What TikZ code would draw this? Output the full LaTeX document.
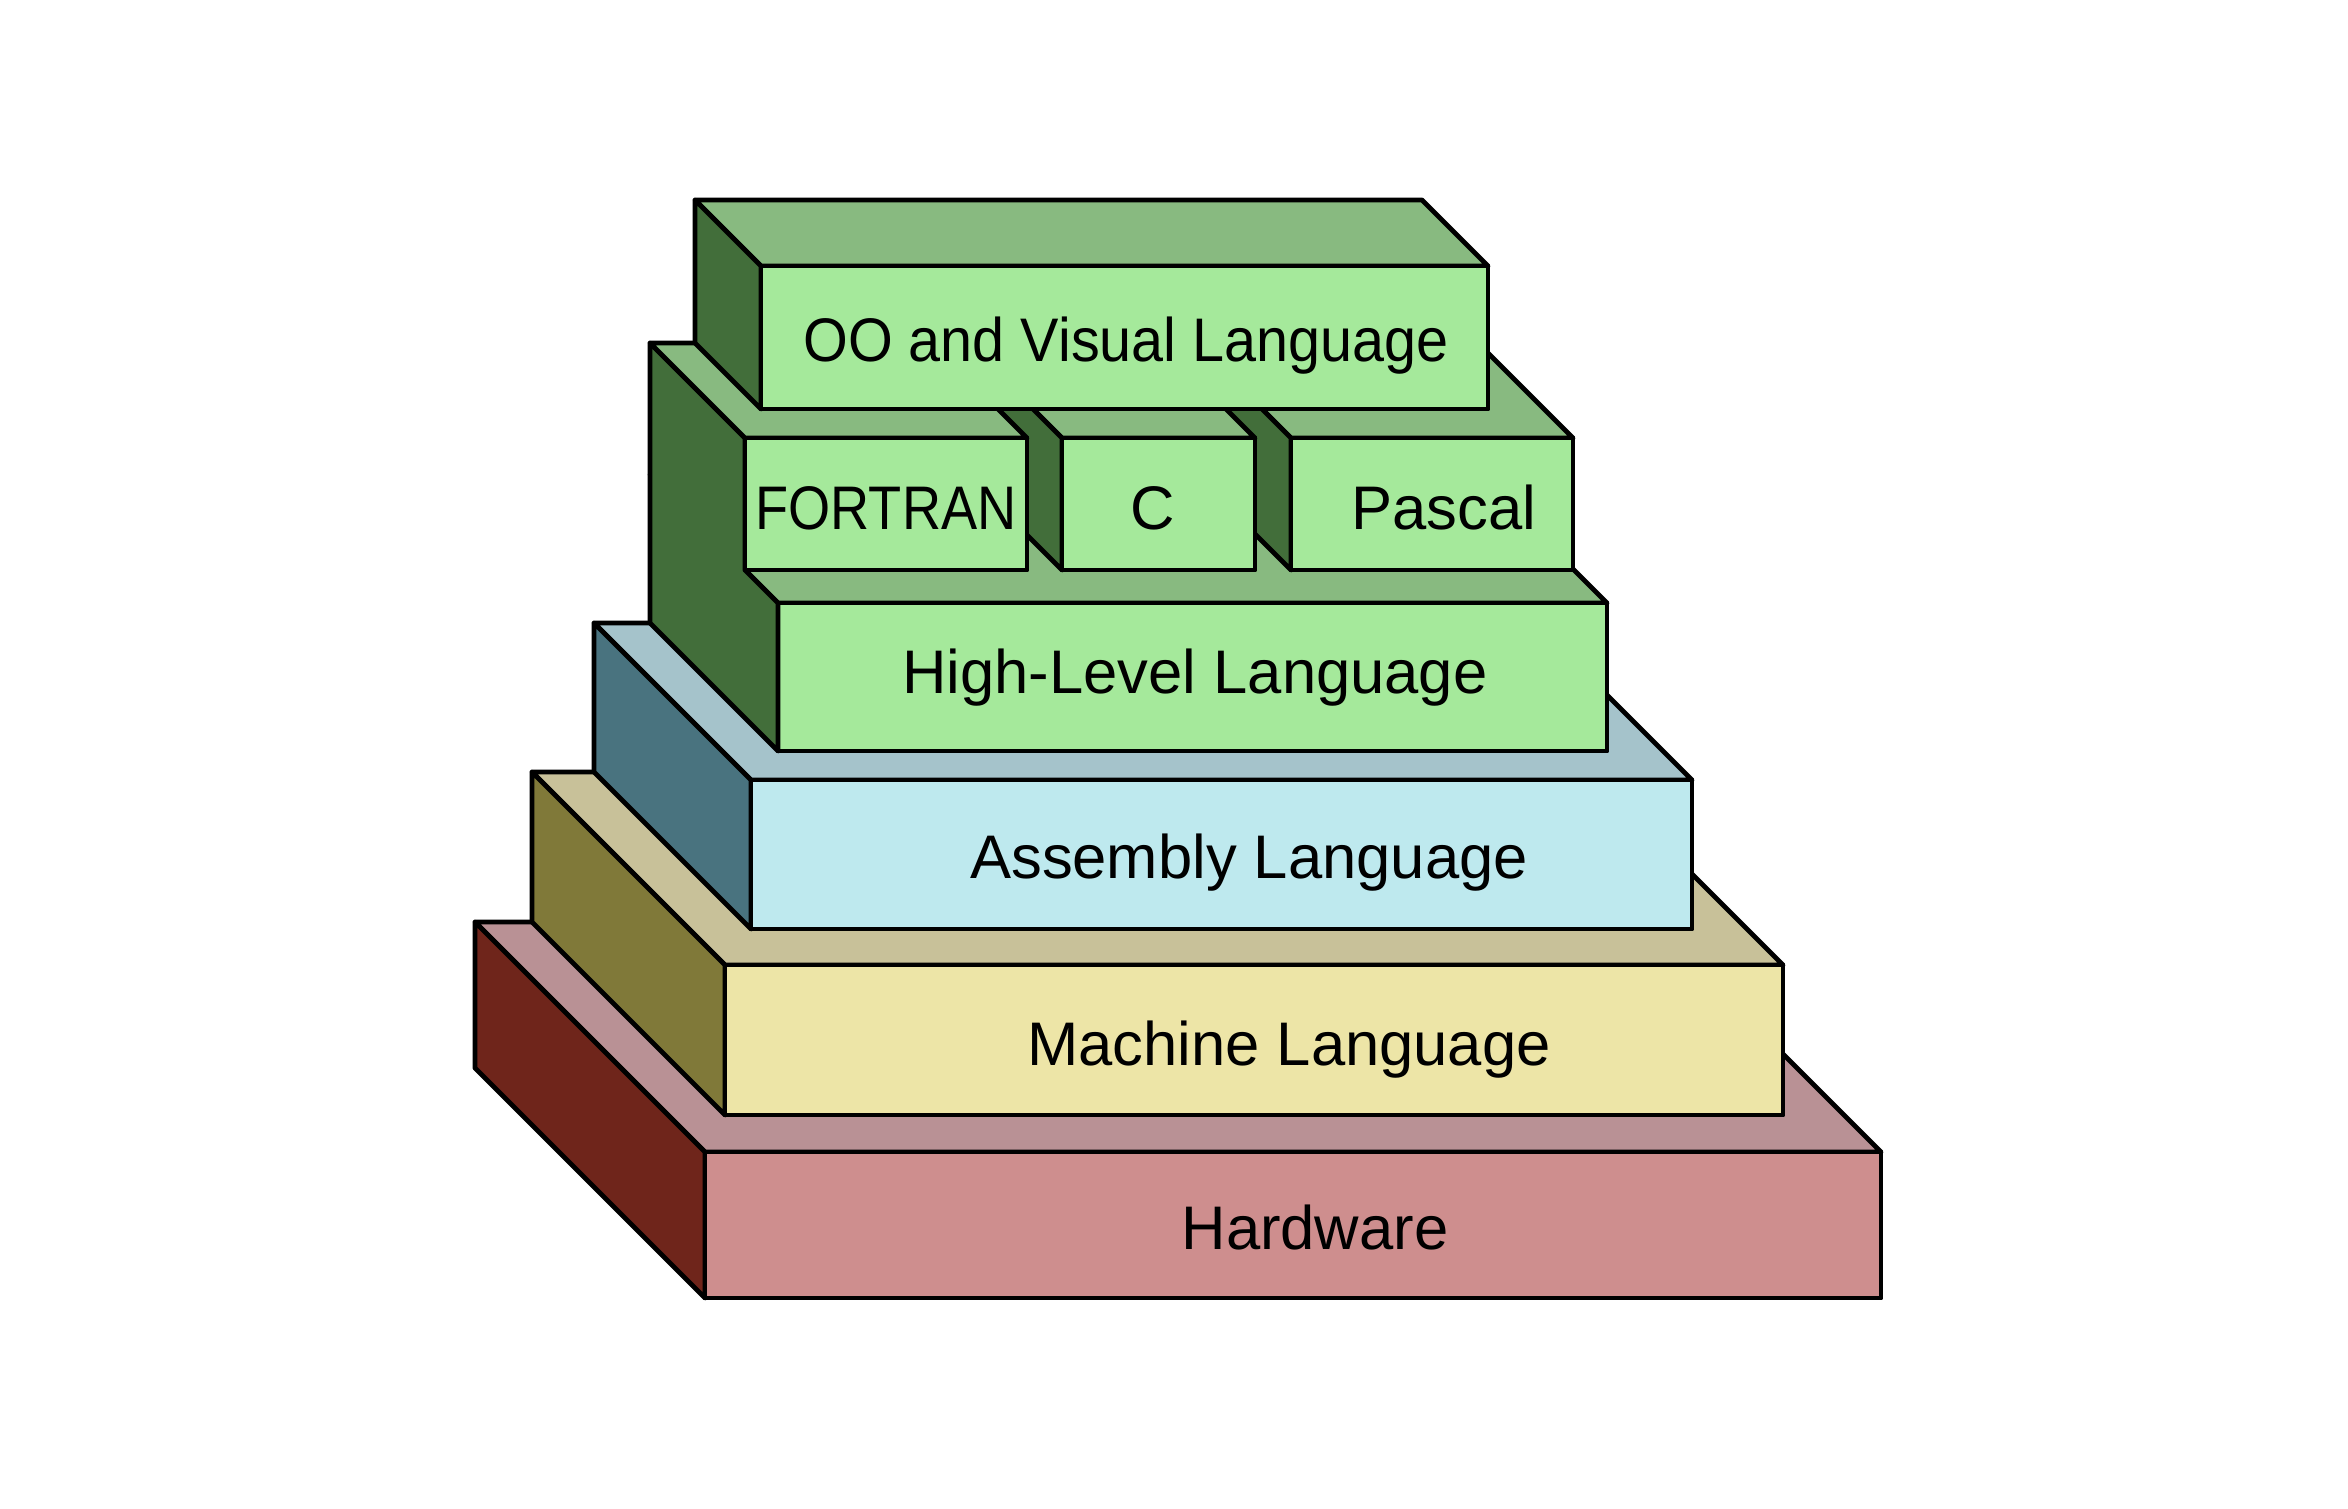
\documentclass[tikz,border=0pt]{standalone}
\usepackage{fontspec}
\usepackage{graphicx}
\setmainfont{Liberation Sans}

\definecolor{grnfront}{RGB}{165,233,155}
\definecolor{grnside}{RGB}{66,110,58}
\definecolor{grntop}{RGB}{136,186,128}
\definecolor{cyafront}{RGB}{190,233,238}
\definecolor{cyaside}{RGB}{73,115,127}
\definecolor{cyatop}{RGB}{165,195,203}
\definecolor{yelfront}{RGB}{237,229,167}
\definecolor{yelside}{RGB}{128,121,57}
\definecolor{yeltop}{RGB}{200,193,153}
\definecolor{redfront}{RGB}{206,142,142}
\definecolor{redside}{RGB}{111,37,27}
\definecolor{redtop}{RGB}{185,145,149}

\tikzset{
  facet/.style={fill=#1, draw=black, line width=1.4pt, line join=round},
  lbl/.style={font=\fontsize{17.5}{21}\selectfont, anchor=base, inner sep=0pt}
}

\begin{document}
\begin{tikzpicture}[x=0.01cm,y=-0.01cm]
        \fill[white] (0,0) rectangle (2348,1508);
        \useasboundingbox (0,0) rectangle (2348,1508);
        % hardware
        \draw[facet=redtop] (475,922)--(1651,922)--(1881,1152)--(705,1152)--cycle;
        \draw[facet=redside] (475,922)--(705,1152)--(705,1298)--(475,1068)--cycle;
        \draw[facet=redfront] (705,1152) rectangle (1881,1298);
        % machine language
        \draw[facet=yeltop] (532,772)--(1590,772)--(1783,965)--(725,965)--cycle;
        \draw[facet=yelside] (532,772)--(725,965)--(725,1115)--(532,922)--cycle;
        \draw[facet=yelfront] (725,965) rectangle (1783,1115);
        % assembly language
        \draw[facet=cyatop] (594,623)--(1535,623)--(1692,780)--(751,780)--cycle;
        \draw[facet=cyaside] (594,623)--(751,780)--(751,929)--(594,772)--cycle;
        \draw[facet=cyafront] (751,780) rectangle (1692,929);
        % high-level language, its left side runs up behind FORTRAN
        \draw[facet=grntop] (650,475)--(1479,475)--(1607,603)--(778,603)--cycle;
        \draw[facet=grnfront] (778,603) rectangle (1607,751);
        \draw[facet=grnside] (650,343)--(745,438)--(745,570)--(778,603)--(778,751)--(650,623)--cycle;
        % Pascal, C, FORTRAN
        \draw[facet=grntop] (1196,343)--(1478,343)--(1573,438)--(1291,438)--cycle;
        \draw[facet=grnside] (1196,343)--(1291,438)--(1291,570)--(1196,475)--cycle;
        \draw[facet=grnfront] (1291,438) rectangle (1573,570);
        \draw[facet=grntop] (967,343)--(1160,343)--(1255,438)--(1062,438)--cycle;
        \draw[facet=grnside] (967,343)--(1062,438)--(1062,570)--(967,475)--cycle;
        \draw[facet=grnfront] (1062,438) rectangle (1255,570);
        \draw[facet=grntop] (650,343)--(932,343)--(1027,438)--(745,438)--cycle;
        \draw[facet=grnfront] (745,438) rectangle (1027,570);
        % OO and visual
        \draw[facet=grntop] (695,200)--(1422,200)--(1488,266)--(761,266)--cycle;
        \draw[facet=grnside] (695,200)--(761,266)--(761,409)--(695,343)--cycle;
        \draw[facet=grnfront] (761,266) rectangle (1488,409);

        \node[lbl] (oo) at (1126,361) {\scalebox{0.935}[1]{OO and Visual Language}};
        \node[lbl] (fortran) at (886,529) {\scalebox{0.88}[1]{FORTRAN}};
        \node[lbl] (clang) at (1153,529) {C};
        \node[lbl] (pascal) at (1444,529) {Pascal};
        \node[lbl] (high) at (1195,693) {High-Level Language};
        \node[lbl] (asm) at (1249,878) {Assembly Language};
        \node[lbl] (machine) at (1289,1065) {Machine Language};
        \node[lbl] (hw) at (1315,1249) {Hardware};
\end{tikzpicture}
\end{document}
